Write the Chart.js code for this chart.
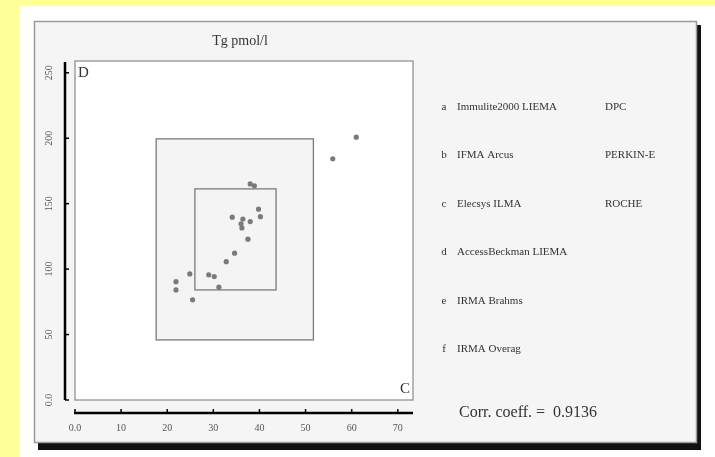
<!DOCTYPE html>
<html>
<head>
<meta charset="utf-8">
<script src="https://cdn.jsdelivr.net/npm/chart.js@4.4.0/dist/chart.umd.min.js"></script>
<style>
  html, body { margin: 0; padding: 0; background: #ffff99; }
  #wrap { width: 715px; height: 457px; }
</style>
</head>
<body>
<div id="wrap"><canvas id="chart" width="715" height="457"></canvas></div>
<script>
// measured values, C (x) vs D (y), Tg pmol/l
const xValues = [61.0, 55.9, 38.0, 38.9, 39.8, 40.2, 34.1, 36.4, 38.0, 36.0, 36.2, 37.5, 34.6, 32.8, 24.9, 29.0, 30.2, 21.9, 21.9, 31.2, 25.5];
const yValues = [200.8, 184.3, 165.1, 163.6, 145.8, 140.1, 139.7, 138.2, 136.3, 134.6, 131.5, 122.9, 112.2, 105.7, 96.3, 95.6, 94.3, 90.4, 84.1, 86.2, 76.5];

// boxes: [xmin, xmax, ymin, ymax]
const outerBox = [17.6, 51.7, 45.9, 199.5];
const innerBox = [26.0, 43.6, 84.1, 161.3];

const xTicks = [0, 10, 20, 30, 40, 50, 60, 70];
const yTicks = [0, 50, 100, 150, 200, 250];

const letters = ['a', 'b', 'c', 'd', 'e', 'f'];
const methods = ['Immulite2000 LIEMA', 'IFMA Arcus', 'Elecsys ILMA', 'AccessBeckman LIEMA', 'IRMA Brahms', 'IRMA Overag'];
const makers = ['DPC', 'PERKIN-E', 'ROCHE', '', '', ''];
const corrCoeff = '0.9136';

const tickLabel = v => (v === 0 ? '0.0' : String(v));

const framePlugin = {
  id: 'frame',
  beforeDraw(chart) {
    const ctx = chart.ctx;
    const a = chart.chartArea;
    const xs = chart.scales.x, ys = chart.scales.y;
    ctx.save();
    ctx.fillStyle = '#ffff99';
    ctx.fillRect(0, 0, 715, 457);
    ctx.fillStyle = '#ffffff';
    ctx.fillRect(20, 6, 695, 451);
    // shadow + panel
    ctx.fillStyle = '#111111';
    ctx.fillRect(38, 25, 663, 425);
    ctx.fillStyle = '#f5f5f5';
    ctx.fillRect(34, 21, 663, 422);
    ctx.strokeStyle = '#9a9a9a';
    ctx.lineWidth = 1.5;
    ctx.strokeRect(34.5, 21.5, 662, 421);
    // plot frame
    ctx.fillStyle = '#ffffff';
    ctx.fillRect(a.left, a.top, a.width, a.height);
    ctx.strokeStyle = '#8a8a8a';
    ctx.lineWidth = 1.2;
    ctx.strokeRect(a.left, a.top, a.width, a.height);
    // boxes
    [outerBox, innerBox].forEach(b => {
      const x0 = xs.getPixelForValue(b[0]), x1 = xs.getPixelForValue(b[1]);
      const y0 = ys.getPixelForValue(b[3]), y1 = ys.getPixelForValue(b[2]);
      ctx.fillStyle = '#f4f4f4';
      ctx.fillRect(x0, y0, x1 - x0, y1 - y0);
      ctx.strokeStyle = '#7a7a7a';
      ctx.lineWidth = 1.3;
      ctx.strokeRect(x0, y0, x1 - x0, y1 - y0);
    });
    ctx.restore();
  },
  afterDraw(chart) {
    const ctx = chart.ctx;
    const a = chart.chartArea;
    const xs = chart.scales.x, ys = chart.scales.y;
    ctx.save();
    // y axis
    const yAxisX = a.left - 10;
    ctx.strokeStyle = '#000';
    ctx.lineWidth = 2.5;
    ctx.beginPath();
    ctx.moveTo(yAxisX, a.top + 1);
    ctx.lineTo(yAxisX, a.bottom);
    ctx.stroke();
    ctx.lineWidth = 1.5;
    ctx.font = '10px "Liberation Serif", serif';
    ctx.fillStyle = '#555';
    ctx.textAlign = 'center';
    ctx.textBaseline = 'middle';
    yTicks.forEach(v => {
      const y = ys.getPixelForValue(v);
      ctx.beginPath();
      ctx.moveTo(yAxisX, y);
      ctx.lineTo(yAxisX + 4, y);
      ctx.stroke();
      ctx.save();
      ctx.translate(yAxisX - 16, y);
      ctx.rotate(-Math.PI / 2);
      ctx.fillText(tickLabel(v), 0, 0);
      ctx.restore();
    });
    // x axis
    const xAxisY = a.bottom + 13;
    ctx.lineWidth = 2.5;
    ctx.beginPath();
    ctx.moveTo(a.left - 1, xAxisY);
    ctx.lineTo(a.right, xAxisY);
    ctx.stroke();
    ctx.lineWidth = 1.5;
    ctx.textBaseline = 'middle';
    xTicks.forEach(v => {
      const x = xs.getPixelForValue(v);
      ctx.beginPath();
      ctx.moveTo(x, xAxisY);
      ctx.lineTo(x, xAxisY - 4);
      ctx.stroke();
      ctx.fillText(tickLabel(v), x, xAxisY + 15);
    });
    // title and corner labels
    ctx.fillStyle = '#333';
    ctx.font = '14px "Liberation Serif", serif';
    ctx.textAlign = 'center';
    ctx.fillText('Tg pmol/l', 240, 41);
    ctx.textAlign = 'left';
    ctx.font = '15px "Liberation Serif", serif';
    ctx.fillText('D', a.left + 3, a.top + 12);
    ctx.textAlign = 'right';
    ctx.fillText('C', a.right - 3, a.bottom - 11);
    // legend
    ctx.font = '11px "Liberation Serif", serif';
    methods.forEach((m, i) => {
      const y = 107 + i * 48.5;
      ctx.textAlign = 'center';
      ctx.fillText(letters[i], 444, y);
      ctx.textAlign = 'left';
      ctx.fillText(m, 457, y);
      if (makers[i]) ctx.fillText(makers[i], 605, y);
    });
    ctx.font = '16px "Liberation Serif", serif';
    ctx.fillText('Corr. coeff. =  ' + corrCoeff, 459, 413);
    ctx.restore();
  }
};

new Chart(document.getElementById('chart'), {
  type: 'scatter',
  data: {
    datasets: [{
      data: xValues.map((x, i) => ({ x: x, y: yValues[i] })),
      pointRadius: 2.6,
      pointBackgroundColor: '#7a7a7a',
      pointBorderWidth: 0
    }]
  },
  options: {
    responsive: false,
    animation: false,
    events: [],
    layout: { padding: { left: 67, top: 61, right: 302, bottom: 49 } },
    plugins: { legend: { display: false }, tooltip: { enabled: false } },
    scales: {
      x: {
        type: 'linear', min: 0, max: 73.3,
        afterBuildTicks: s => { s.ticks = xTicks.map(v => ({ value: v })); },
        ticks: { display: false },
        grid: { display: false },
        border: { display: false }
      },
      y: {
        type: 'linear', min: 0, max: 259,
        afterBuildTicks: s => { s.ticks = yTicks.map(v => ({ value: v })); },
        ticks: { display: false },
        grid: { display: false },
        border: { display: false }
      }
    }
  },
  plugins: [framePlugin]
});
</script>
</body>
</html>
